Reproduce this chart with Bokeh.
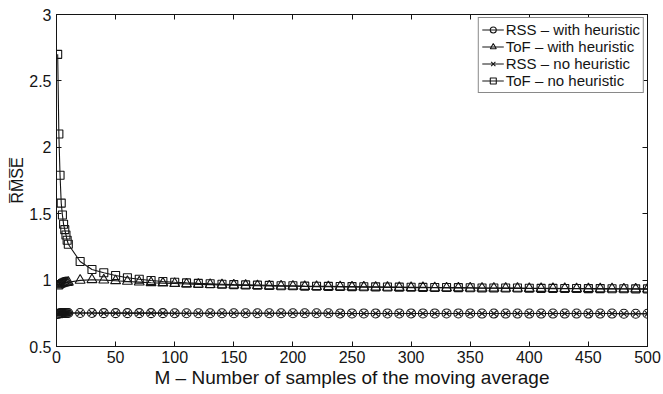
from bokeh.plotting import figure
from bokeh.models import LinearAxis, FixedTicker, Legend, LegendItem, Range1d, CustomJSTickFormatter
from bokeh.embed import file_html
from bokeh.resources import INLINE

# ---- data ----
m_samples = [1, 2, 3, 4, 5, 6, 7, 8, 9, 10,
             20, 30, 40, 50, 60, 70, 80, 90, 100, 110,
             120, 130, 140, 150, 160, 170, 180, 190, 200, 210,
             220, 230, 240, 250, 260, 270, 280, 290, 300, 310,
             320, 330, 340, 350, 360, 370, 380, 390, 400, 410,
             420, 430, 440, 450, 460, 470, 480, 490, 500]

rss_with_heuristic = [0.745, 0.748, 0.750, 0.751, 0.751, 0.752, 0.752, 0.752, 0.752, 0.752,
                      0.752, 0.752, 0.751, 0.751, 0.751, 0.751, 0.751, 0.751, 0.750, 0.750,
                      0.750, 0.750, 0.750, 0.750, 0.750, 0.750, 0.750, 0.750, 0.750, 0.750,
                      0.750, 0.750, 0.749, 0.749, 0.749, 0.749, 0.749, 0.749, 0.749, 0.749,
                      0.749, 0.749, 0.749, 0.749, 0.748, 0.748, 0.748, 0.748, 0.748, 0.748,
                      0.748, 0.748, 0.748, 0.748, 0.748, 0.748, 0.747, 0.747, 0.747]

tof_with_heuristic = [0.955, 0.962, 0.968, 0.972, 0.975, 0.977, 0.979, 0.981, 0.982, 0.984,
                      0.998, 1.003, 1.000, 0.995, 0.990, 0.985, 0.980, 0.977, 0.974, 0.971,
                      0.968, 0.966, 0.964, 0.962, 0.960, 0.958, 0.956, 0.955, 0.954, 0.952,
                      0.951, 0.950, 0.949, 0.948, 0.947, 0.946, 0.945, 0.944, 0.943, 0.943,
                      0.942, 0.941, 0.941, 0.940, 0.939, 0.939, 0.938, 0.938, 0.937, 0.937,
                      0.936, 0.936, 0.935, 0.935, 0.934, 0.934, 0.933, 0.933, 0.932]

rss_no_heuristic = [0.748, 0.750, 0.751, 0.752, 0.752, 0.752, 0.752, 0.752, 0.752, 0.752,
                    0.752, 0.752, 0.751, 0.751, 0.751, 0.751, 0.751, 0.751, 0.750, 0.750,
                    0.750, 0.750, 0.750, 0.750, 0.750, 0.750, 0.750, 0.750, 0.750, 0.750,
                    0.750, 0.750, 0.749, 0.749, 0.749, 0.749, 0.749, 0.749, 0.749, 0.749,
                    0.749, 0.749, 0.749, 0.749, 0.748, 0.748, 0.748, 0.748, 0.748, 0.748,
                    0.748, 0.748, 0.748, 0.748, 0.748, 0.748, 0.747, 0.747, 0.747]

tof_no_heuristic = [2.70, 2.10, 1.79, 1.58, 1.49, 1.42, 1.38, 1.34, 1.30, 1.27,
                    1.14, 1.08, 1.055, 1.035, 1.018, 1.006, 0.997, 0.990, 0.984, 0.979,
                    0.975, 0.972, 0.969, 0.966, 0.964, 0.962, 0.960, 0.958, 0.957, 0.955,
                    0.954, 0.953, 0.952, 0.951, 0.950, 0.949, 0.948, 0.947, 0.946, 0.945,
                    0.944, 0.944, 0.943, 0.942, 0.941, 0.941, 0.940, 0.940, 0.939, 0.938,
                    0.938, 0.937, 0.937, 0.936, 0.936, 0.935, 0.935, 0.934, 0.934]

series_labels = ["RSS \u2013 with heuristic", "ToF \u2013 with heuristic",
                 "RSS \u2013 no heuristic", "ToF \u2013 no heuristic"]

x_ticks = [0, 50, 100, 150, 200, 250, 300, 350, 400, 450, 500]
y_ticks = [0.5, 1.0, 1.5, 2.0, 2.5, 3.0]
y_tick_labels = ["0.5", "1", "1.5", "2", "2.5", "3"]

# ---- figure ----
FONT = "Liberation Sans"
INK = "#141414"

p = figure(width=663, height=394, output_backend="svg", toolbar_location=None,
           x_range=Range1d(0, 500), y_range=Range1d(0.5, 3.0),
           min_border_left=56, min_border_right=16, min_border_top=14, min_border_bottom=48)
p.background_fill_color = "white"
p.border_fill_color = "white"
p.grid.visible = False
p.outline_line_color = INK
p.outline_line_width = 1

for ax in (p.xaxis[0], p.yaxis[0]):
    ax.major_tick_in = 5
    ax.major_tick_out = 0
    ax.minor_tick_line_color = None
    ax.axis_line_color = INK
    ax.major_tick_line_color = INK
    ax.major_label_text_font = FONT
    ax.major_label_text_font_size = "16px"
    ax.major_label_text_color = INK
    ax.axis_label_text_font = FONT
    ax.axis_label_text_font_style = "normal"
    ax.axis_label_text_color = INK

p.xaxis[0].ticker = FixedTicker(ticks=x_ticks)
p.yaxis[0].ticker = FixedTicker(ticks=y_ticks)
p.yaxis[0].major_label_overrides = {t: s for t, s in zip(y_ticks, y_tick_labels)}
p.xaxis[0].axis_label = "M \u2013 Number of samples of the moving average"
p.xaxis[0].axis_label_text_font_size = "19px"
p.yaxis[0].axis_label = "R\u0305M\u0305S\u0305E\u0305"
p.yaxis[0].axis_label_text_font_size = "16px"
p.xaxis[0].major_label_standoff = 4
p.xaxis[0].axis_label_standoff = 1
p.yaxis[0].major_label_standoff = 5
p.yaxis[0].axis_label_standoff = 0

# mirrored ticks on the top and right (box style), without labels
blank = CustomJSTickFormatter(code="return ''")
top = LinearAxis(ticker=FixedTicker(ticks=x_ticks), formatter=blank,
                 major_tick_in=5, major_tick_out=0, minor_tick_line_color=None,
                 axis_line_color=INK, major_tick_line_color=INK, major_label_standoff=0)
right = LinearAxis(ticker=FixedTicker(ticks=y_ticks), formatter=blank,
                   major_tick_in=5, major_tick_out=0, minor_tick_line_color=None,
                   axis_line_color=INK, major_tick_line_color=INK, major_label_standoff=0)
p.add_layout(top, "above")
p.add_layout(right, "right")

styles = [
    (rss_with_heuristic, "circle", 9),
    (tof_with_heuristic, "triangle", 10),
    (rss_no_heuristic, "x", 8),
    (tof_no_heuristic, "square", 8),
]

items = []
for (vals, marker, size), label in zip(styles, series_labels):
    ln = p.line(m_samples, vals, line_color=INK, line_width=1.1)
    sc = p.scatter(m_samples, vals, marker=marker, size=size,
                   fill_color=None, line_color=INK, line_width=1.1)
    items.append(LegendItem(label=label, renderers=[ln, sc]))

legend = Legend(items=items, location="top_right",
                label_text_font=FONT, label_text_font_size="15px", label_text_color=INK,
                border_line_color=INK, border_line_width=1, background_fill_alpha=1,
                glyph_width=22, glyph_height=15, label_height=15, label_standoff=2,
                spacing=0, padding=3, margin=3)
p.add_layout(legend)

open("out.html", "w").write(file_html(p, INLINE))
